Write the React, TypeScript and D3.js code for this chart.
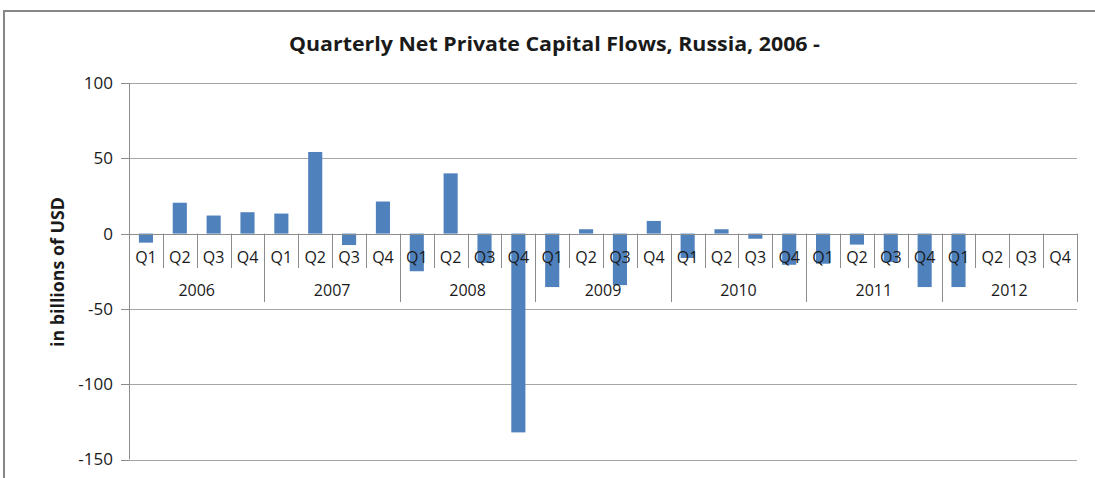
import React from "react";
import * as d3 from "d3";

const years = ["2006", "2007", "2008", "2009", "2010", "2011", "2012"];
const quarters = ["Q1", "Q2", "Q3", "Q4"];
const flows2006 = [-6, 20.5, 12, 14.2];
const flows2007 = [13.3, 54.2, -7.6, 21.3];
const flows2008 = [-25, 40, -19.5, -132];
const flows2009 = [-35.5, 2.9, -34.2, 8.4];
const flows2010 = [-16.2, 2.9, -3.4, -20.7];
const flows2011 = [-20, -7.3, -18.9, -35.5];
const flows2012: (number | null)[] = [-35.5, null, null, null];
const yTicks = [100, 50, 0, -50, -100, -150];
const title = "Quarterly Net Private Capital Flows, Russia, 2006 -";
const yTitle = "in billions of USD";

const W = 1095;
const H = 478;
const FONT = "'Open Sans', 'DejaVu Sans', sans-serif";

export default function App() {
  const allFlows = [flows2006, flows2007, flows2008, flows2009, flows2010, flows2011, flows2012];
  const data = years.flatMap((y, yi) =>
    quarters.map((q, qi) => ({ year: y, q, idx: yi * 4 + qi, value: allFlows[yi][qi] }))
  );

  const left = 129;
  const right = 1077;
  const x = d3.scaleBand<number>().domain(d3.range(data.length)).range([left, right]).padding(0);
  const step = x.step();
  const barW = step / 2.4;
  const y = d3.scaleLinear().domain([-150, 100]).range([459.5, 83]);
  const y0 = y(0);
  const gridColor = "#a6a6a6";
  const axisColor = "#8c8c8c";
  const textColor = "#1a1a1a";
  const barColor = "#4f81bd";

  return (
    <svg width={W} height={H} style={{ position: "absolute", left: 0, top: 0, background: "#fff" }}>
      <rect x={0} y={0} width={W} height={H} fill="#fff" />
      {/* chart border */}
      <line x1={4} y1={11} x2={W} y2={11} stroke="#878787" strokeWidth={2} />
      <line x1={4} y1={10} x2={4} y2={H} stroke="#878787" strokeWidth={2} />

      {/* title */}
      <text
        x={554.5}
        y={51}
        textAnchor="middle"
        fontFamily={FONT}
        fontWeight={700}
        fontSize={20}
        textLength={531}
        lengthAdjust="spacingAndGlyphs"
        fill={textColor}
      >
        {title}
      </text>

      {/* y axis title */}
      <text
        transform={`translate(64,272) rotate(-90)`}
        textAnchor="middle"
        fontFamily={FONT}
        fontWeight={700}
        fontSize={18}
        textLength={150}
        lengthAdjust="spacingAndGlyphs"
        fill={textColor}
      >
        {yTitle}
      </text>

      {/* gridlines */}
      {yTicks.map((t) => (
        <line key={"g" + t} x1={left} x2={right} y1={Math.round(y(t)) + 0.5} y2={Math.round(y(t)) + 0.5} stroke={gridColor} strokeWidth={1} />
      ))}

      {/* bars */}
      {data.map((d) =>
        d.value === null ? null : (
          <rect
            key={"b" + d.idx}
            x={(x(d.idx) as number) + step / 2 - barW / 2}
            y={Math.min(y(d.value), y0)}
            width={barW}
            height={Math.abs(y(d.value) - y0)}
            fill={barColor}
          />
        )
      )}

      {/* y axis */}
      <line x1={left + 0.5} x2={left + 0.5} y1={y(100)} y2={y(-150)} stroke={axisColor} strokeWidth={1} />
      {yTicks.map((t) => (
        <g key={"t" + t}>
          <line x1={121} x2={left} y1={Math.round(y(t)) + 0.5} y2={Math.round(y(t)) + 0.5} stroke={axisColor} strokeWidth={1} />
          <text x={113} y={y(t)} dy="0.35em" textAnchor="end" fontFamily={FONT} fontSize={17} fill={textColor}>
            {t}
          </text>
        </g>
      ))}

      {/* category axis */}
      <line x1={left} x2={right} y1={Math.round(y0) + 0.5} y2={Math.round(y0) + 0.5} stroke={axisColor} strokeWidth={1} />
      {d3.range(data.length + 1).map((i) => {
        const xx = Math.round(left + i * step) + 0.5;
        const isYear = i % 4 === 0;
        return (
          <line key={"s" + i} x1={xx} x2={xx} y1={y0} y2={isYear ? 302 : 268} stroke={axisColor} strokeWidth={1} />
        );
      })}
      {data.map((d) => (
        <text
          key={"q" + d.idx}
          x={(x(d.idx) as number) + step / 2}
          y={257}
          dy="0.35em"
          textAnchor="middle"
          fontFamily={FONT}
          fontSize={16}
          fill={textColor}
        >
          {d.q}
        </text>
      ))}
      {years.map((yr, yi) => (
        <text
          key={"y" + yr}
          x={left + (yi * 4 + 2) * step}
          y={290}
          dy="0.35em"
          textAnchor="middle"
          fontFamily={FONT}
          fontSize={16}
          fill={textColor}
        >
          {yr}
        </text>
      ))}
    </svg>
  );
}
